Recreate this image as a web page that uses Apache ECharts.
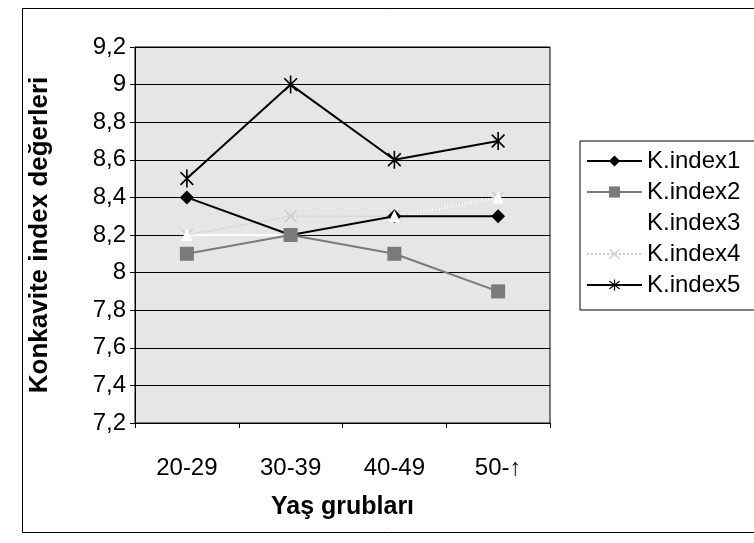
<!DOCTYPE html>
<html>
<head>
<meta charset="utf-8">
<script src="https://cdn.jsdelivr.net/npm/echarts@6/dist/echarts.min.js"></script>
<style>html,body{margin:0;padding:0;background:#fff}#c{width:754px;height:543px}</style>
</head>
<body>
<div id="c"></div>
<script>
var categories = ['20-29', '30-39', '40-49', '50-\u2191'];
var kIndex1 = [8.4, 8.2, 8.3, 8.3];
var kIndex2 = [8.1, 8.2, 8.1, 7.9];
var kIndex3 = [8.2, 8.2, 8.3, 8.4];
var kIndex4 = [8.2, 8.3, 8.3, 8.4];
var kIndex5 = [8.5, 9.0, 8.6, 8.7];
var yMin = 7.2, yMax = 9.2, yStep = 0.2;

var FONT = 'Arial, "Liberation Sans", sans-serif';
var asterisk = 'path://M-0.9,-10L0.9,-10L0.9,10L-0.9,10Z M-6.4,-7.7L7.7,6.4L6.4,7.7L-7.7,-6.4Z M6.4,-7.7L7.7,-6.4L-6.4,7.7L-7.7,6.4Z';
var xcross = 'path://M-6.4,-7.7L7.7,6.4L6.4,7.7L-7.7,-6.4Z M6.4,-7.7L7.7,-6.4L-6.4,7.7L-7.7,6.4Z';

var chart = echarts.init(document.getElementById('c'), null, {renderer: 'canvas'});
chart.setOption({
  animation: false,
  backgroundColor: '#fff',
  graphic: [{
    type: 'rect', left: 20, top: 6, shape: {width: 760, height: 524},
    style: {fill: 'none', stroke: '#000', lineWidth: 1}, z: -1
  }],
  grid: {left: 135, right: 204, top: 47, bottom: 120, show: true,
         backgroundColor: '#e6e6e6', borderColor: '#000', borderWidth: 1},
  legend: {
    orient: 'vertical', left: 580, top: 141,
    width: 190,
    padding: [8, 30, 13, 6],
    itemGap: 7, itemWidth: 55, itemHeight: 14,
    borderColor: '#000', borderWidth: 1, backgroundColor: '#fff',
    textStyle: {fontFamily: FONT, fontSize: 24, color: '#000'},
    data: ['K.index1', 'K.index2', 'K.index3', 'K.index4', 'K.index5']
  },
  xAxis: {
    type: 'category', data: categories, boundaryGap: true,
    name: 'Yaş grubları', nameLocation: 'middle', nameGap: 72,
    nameTextStyle: {fontFamily: FONT, fontSize: 25, fontWeight: 'bold', color: '#000'},
    axisLine: {lineStyle: {color: '#000', width: 1}},
    axisTick: {show: true, length: 5, alignWithLabel: false, lineStyle: {color: '#000'}},
    axisLabel: {fontFamily: FONT, fontSize: 24, color: '#000', margin: 33},
    splitLine: {show: false}
  },
  yAxis: {
    type: 'value', min: yMin, max: yMax, interval: yStep,
    name: 'Konkavite index değerleri', nameLocation: 'middle', nameGap: 82,
    nameTextStyle: {fontFamily: FONT, fontSize: 26, fontWeight: 'bold', color: '#000'},
    axisLine: {show: true, lineStyle: {color: '#000', width: 1}},
    axisTick: {show: true, length: 5, lineStyle: {color: '#000'}},
    axisLabel: {fontFamily: FONT, fontSize: 24, color: '#000', margin: 9,
      formatter: function (v) { return (Math.round(v * 10) / 10).toString().replace('.', ','); }},
    splitLine: {show: true, lineStyle: {color: '#000', width: 1}}
  },
  series: [
    {name: 'K.index1', type: 'line', data: kIndex1, z: 3,
     symbol: 'diamond', symbolSize: 14,
     itemStyle: {color: '#000'}, lineStyle: {color: '#000', width: 2}},
    {name: 'K.index2', type: 'line', data: kIndex2, z: 4,
     symbol: 'rect', symbolSize: 14,
     itemStyle: {color: '#7a7a7a'}, lineStyle: {color: '#7a7a7a', width: 2}},
    {name: 'K.index3', type: 'line', data: kIndex3, z: 2,
     symbol: 'none',
     itemStyle: {color: '#fff'}, lineStyle: {color: '#fff', width: 2}},
    {name: 'K.index3', type: 'line', data: kIndex3, z: 3.5,
     symbol: 'triangle', symbolSize: 12, showSymbol: true,
     itemStyle: {color: '#fff'}, lineStyle: {width: 0, opacity: 0}},
    {name: 'K.index4', type: 'line', data: kIndex4, z: 2.5,
     symbol: xcross, symbolSize: 13, symbolKeepAspect: true,
     itemStyle: {color: '#cccccc'}, lineStyle: {color: '#cccccc', width: 1.5, type: 'dotted'}},
    {name: 'K.index5', type: 'line', data: kIndex5, z: 5,
     symbol: asterisk, symbolSize: 18, symbolKeepAspect: true,
     itemStyle: {color: '#000'}, lineStyle: {color: '#000', width: 2}}
  ]
});
</script>
</body>
</html>
